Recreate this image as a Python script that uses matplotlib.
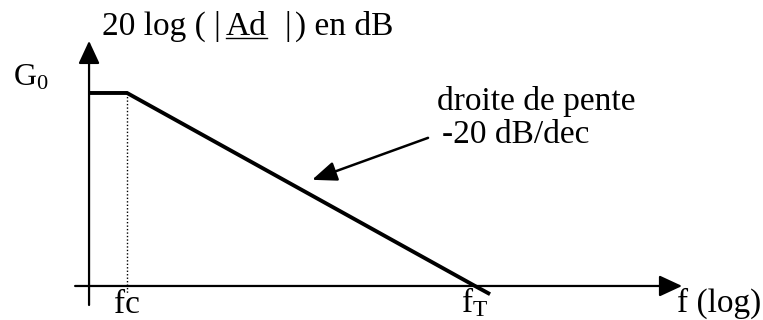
import matplotlib.pyplot as plt
from matplotlib.lines import Line2D
from matplotlib.transforms import IdentityTransform

plt.rcParams['font.family'] = ['Liberation Serif', 'DejaVu Serif']
plt.rcParams['mathtext.fontset'] = 'custom'
plt.rcParams['mathtext.rm'] = 'Liberation Serif'
plt.rcParams['mathtext.it'] = 'Liberation Serif:italic'

# Asymptotic Bode gain: flat G0 up to fc, then -20 dB/dec down to fT
freq = [6.05, 10, 1000, 1220]
gain_db = [40, 40, 0, -1.7]
f_c = 10
f_T = 1000
G0 = 40

W, H = 763, 320


def px(x, y):
    # pixel position -> axes fraction (for the labels)
    return x / W, 1 - y / H


fig = plt.figure(figsize=(W / 100, H / 100), dpi=100)
ax = fig.add_axes([0, 0, 1, 1])
ax.set_xscale('log')
ax.set_xlim(1.862, 45190)
ax.set_ylim(-7.05, 59.27)
ax.axis('off')

# axes with arrow heads
axis_arrow = dict(arrowstyle='-|>,head_length=14,head_width=6.5', mutation_scale=1,
                  lw=1.6, color='black', shrinkA=0, shrinkB=0)
ax.annotate('', xy=(15490, 0), xytext=(5.03, 0), arrowprops=axis_arrow)
ax.annotate('', xy=(freq[0], 50.8), xytext=(freq[0], -3.94), arrowprops=axis_arrow)

# gain curve
ax.plot(freq, gain_db, color='black', lw=2.8, solid_joinstyle='miter', solid_capstyle='butt')

# dotted line at fc
ax.plot([f_c, f_c], [G0, -1.45], color='black', lw=1.0, linestyle=(0, (1, 1.5)))

# slope annotation
ax.annotate('', xy=(115.7, 22.0), xytext=(537, 30.7),
            arrowprops=dict(arrowstyle='-|>,head_length=15,head_width=6', mutation_scale=1,
                            lw=1.8, color='black', shrinkA=0, shrinkB=0))
ax.text(*px(437, 110), 'droite de pente', transform=ax.transAxes, fontsize=24, va='baseline')
ax.text(*px(442, 143), '-20 dB/dec', transform=ax.transAxes, fontsize=24, va='baseline')

# y label with underlined Ad
t1 = ax.text(*px(102, 35), '20 log ( |', transform=ax.transAxes, fontsize=24, va='baseline')
t2 = ax.annotate('Ad', xy=(1, 0), xycoords=t1, xytext=(3.6, 0), textcoords='offset points',
                 fontsize=24, va='bottom', ha='left')
t3 = ax.annotate('|', xy=(1, 0), xycoords=t2, xytext=(13, 0), textcoords='offset points',
                 fontsize=24, va='bottom', ha='left')
ax.annotate(') en dB', xy=(1, 0), xycoords=t3, xytext=(2.5, 0), textcoords='offset points',
            fontsize=24, va='bottom', ha='left')

ax.text(*px(13, 86), r'G$_0$', transform=ax.transAxes, fontsize=23, va='baseline')

# x labels
xt = ax.get_xaxis_transform()
ax.text(f_c, 1 - 313 / H, 'fc', transform=xt, fontsize=24, ha='center', va='baseline')
ax.text(f_T, 1 - 312 / H, r'f$_\mathrm{T}$', transform=xt, fontsize=24, ha='center', va='baseline')
ax.text(*px(677, 312), 'f (log)', transform=ax.transAxes, fontsize=24, va='baseline')

fig.canvas.draw()
bb = t2.get_window_extent()
fig.add_artist(Line2D([bb.x0, bb.x1], [bb.y0 + 4, bb.y0 + 4], color='black', lw=1.0,
                      transform=IdentityTransform()))

fig.savefig('out.png', dpi=100)
